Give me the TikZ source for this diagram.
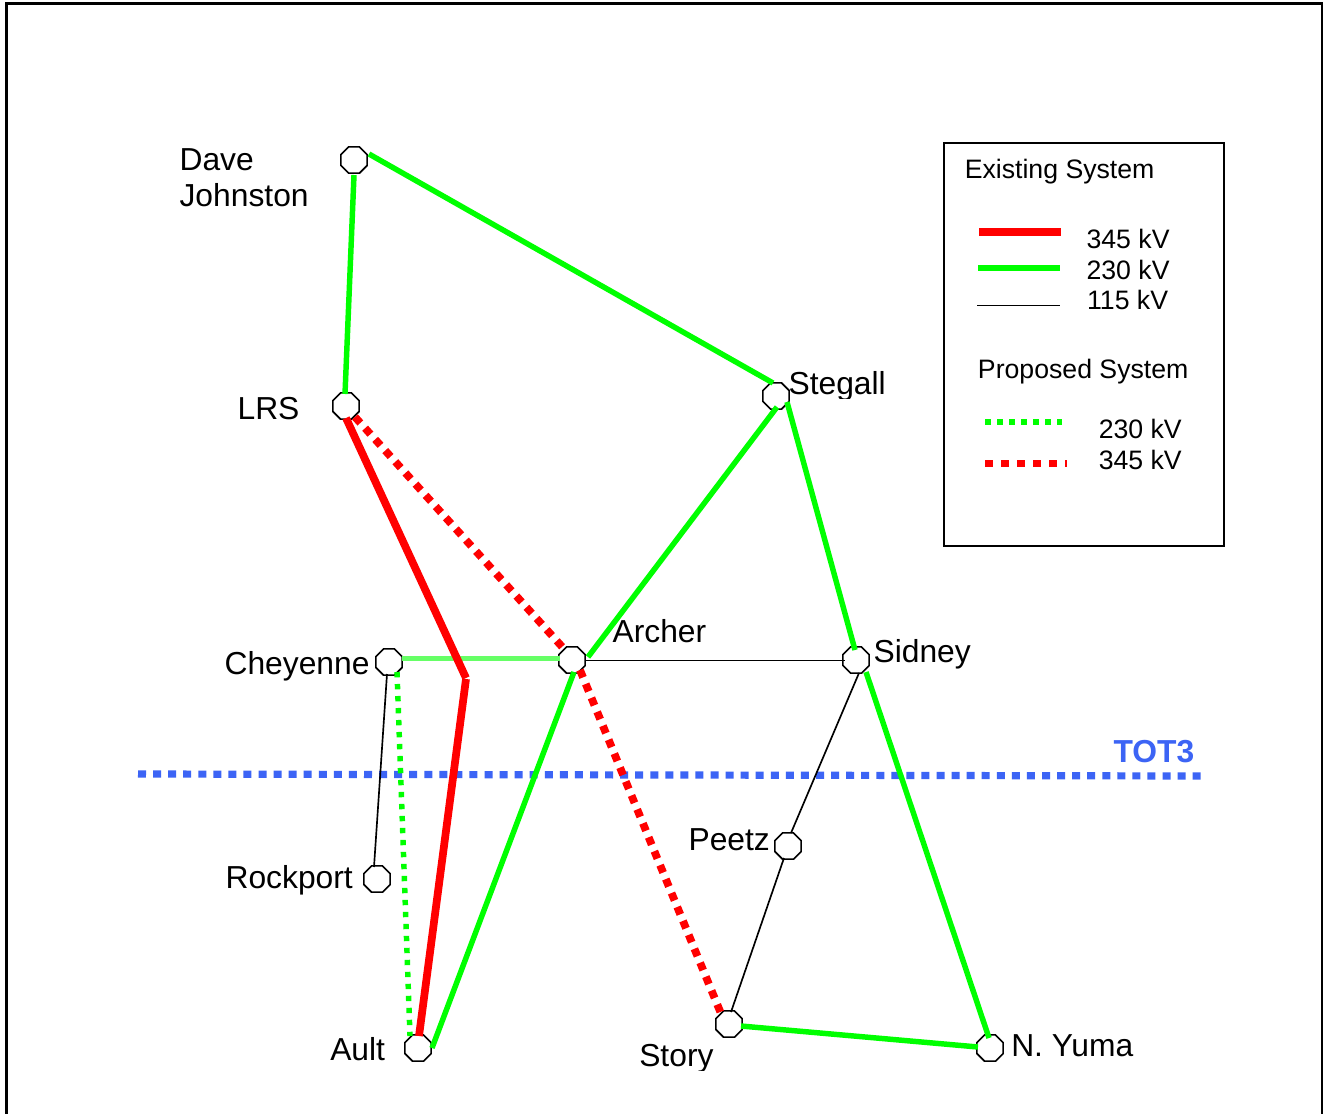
\documentclass[tikz,border=0pt]{standalone}
\usepackage{fontspec}
\setmainfont{Liberation Sans}
\usetikzlibrary{shapes.geometric,calc}
\definecolor{gridgreen}{HTML}{00FF00}
\definecolor{gridred}{HTML}{FF0000}
\definecolor{softgreen}{HTML}{66FF66}
\definecolor{totblue}{HTML}{3C64F5}
\tikzset{
  x=0.75pt,y=-0.75pt,
  station/.style={regular polygon,regular polygon sides=8,draw=black,fill=white,line width=1.2pt,minimum size=28.5*0.75pt,inner sep=0pt},
  place/.style={anchor=base west,inner sep=0pt,font=\fontsize{23.85pt}{27pt}\selectfont},
  legendtext/.style={anchor=base west,inner sep=0pt,font=\fontsize{20pt}{24pt}\selectfont},
  kvgreen/.style={draw=gridgreen,line width=4.1pt},
  kvsoft/.style={draw=softgreen,line width=4.1pt},
  kvred/.style={draw=gridred,line width=5.8pt},
  kvblack/.style={draw=black,line width=1.25pt},
  newgreen/.style={draw=gridgreen,line width=4.1pt,dash pattern=on 4pt off 5pt},
  newred/.style={draw=gridred,line width=5.8pt,dash pattern=on 6pt off 5.3pt},
  totline/.style={draw=totblue,line width=5.4pt,dash pattern=on 6pt off 5.3pt},
}
\begin{document}
\begin{tikzpicture}
\useasboundingbox (0,0) rectangle (1325,1114);
\fill[white] (0,0) rectangle (1325,1114);
% frame
\draw[black,line width=2pt] (6.5,1114) -- (6.5,3.5) -- (1322,3.5) -- (1322,1114);

% stations
\node[station] (dj) at (354,160) {};
\node[station] (lrs) at (346,406) {};
\node[station] (stegall) at (776,396) {};
\node[station] (cheyenne) at (389,662) {};
\node[station] (archer) at (572,660) {};
\node[station] (sidney) at (856,660) {};
\node[station] (rockport) at (377,879) {};
\node[station] (peetz) at (788,846) {};
\node[station] (ault) at (418,1048) {};
\node[station] (story) at (729,1024) {};
\node[station] (yuma) at (990,1048) {};
\coordinate (bend) at (466,678);

% TOT3 line
\coordinate (tota) at (138,774);
\coordinate (totb) at (1203,776);
\draw[totline] (tota) -- (totb);

% 115 kV
\draw[kvblack] ([shift={(13,0.5)}]archer.center) -- ([shift={(-11,0.5)}]sidney.center);
\draw[kvblack] ([shift={(-2,12)}]cheyenne.center) -- ([shift={(-3,-12)}]rockport.center);
\draw[kvblack] ([shift={(3,13)}]sidney.center) -- ([shift={(3,-13)}]peetz.center);
\draw[kvblack] ([shift={(-4,12)}]peetz.center) -- ([shift={(2,-12)}]story.center);

% 230 kV
\draw[kvgreen] ([shift={(0,15)}]dj.center) -- ([shift={(-1,-12)}]lrs.center);
\draw[kvgreen] ([shift={(15,-6)}]dj.center) -- ([shift={(-3,-13)}]stegall.center);
\draw[kvgreen] ([shift={(1,11)}]stegall.center) -- ([shift={(16,-3)}]archer.center);
\draw[kvgreen] ([shift={(11,6)}]stegall.center) -- ([shift={(-1,-10)}]sidney.center);
\draw[kvgreen] ([shift={(10,12)}]sidney.center) -- ([shift={(-1,-10)}]yuma.center);
\draw[kvgreen] ([shift={(2,12)}]archer.center) -- ([shift={(14,0)}]ault.center);
\draw[kvgreen] ([shift={(12,2)}]story.center) -- ([shift={(-12,-1)}]yuma.center);
\draw[kvsoft] ([shift={(13,-3.5)}]cheyenne.center) -- ([shift={(-12,-1.5)}]archer.center);

% 345 kV
\draw[kvred] ([shift={(0,12)}]lrs.center) -- (bend);
\draw[kvred] ([shift={(0,1)}]bend) -- ([shift={(1,-12)}]ault.center);

% proposed
\draw[newred] ([shift={(9,11)}]lrs.center) -- ([shift={(-7,-10)}]archer.center);
\draw[newred] ([shift={(8,10)}]archer.center) -- ([shift={(-7,-8)}]story.center);
\draw[newgreen] ([shift={(8,10)}]cheyenne.center) -- ([shift={(-8,-12)}]ault.center);

% labels
\node[place] (djlabel) at (179.3,170) {Dave};
\node[place] (djlabel2) at (179.3,206) {Johnston};
\node[place] (lrslabel) at (237.3,419) {LRS};
\node[place] (steglabel) at (788.3,394) {Stegall};
\node[place] (archlabel) at (612.3,642) {Archer};
\node[place] (cheylabel) at (224.3,674) {Cheyenne};
\node[place] (sidlabel) at (873.3,662) {Sidney};
\node[place] (peetzlabel) at (688.3,850) {Peetz};
\node[place] (rocklabel) at (225.3,888) {Rockport};
\node[place] (aultlabel) at (330,1060) {Ault};
\node[place] (storylabel) at (639,1066) {Story};
\node[place] (yumalabel) at (1011,1056) {N. Yuma};
\node[place,text=totblue,font=\fontsize{23.85pt}{27pt}\selectfont\bfseries] (totlabel) at (1113.3,762) {TOT3};
% descenders cut off in the reference
\fill[white] (825,399) rectangle (885,410);
\fill[white] (680,1071) rectangle (718,1082);

% legend
\draw[black,line width=1.2pt] (1224,404) -- (1224,143) -- (944,143) -- (944,546) -- (1224,546) -- (1224,404);
\node[legendtext] (existing) at (964.5,178) {Existing System};
\node[legendtext] (proposed) at (977.7,378) {Proposed System};
\node[legendtext] (ea) at (1086.3,248) {345 kV};
\node[legendtext] (eb) at (1086.3,279) {230 kV};
\node[legendtext] (ec) at (1086.8,309) {115 kV};
\node[legendtext] (pa) at (1098.5,438) {230 kV};
\node[legendtext] (pb) at (1098.5,469) {345 kV};
\coordinate (l1a) at (979,232); \coordinate (l1b) at (1061,232);
\coordinate (l2a) at (978,268); \coordinate (l2b) at (1060,268);
\coordinate (l3a) at (977,305.5); \coordinate (l3b) at (1060,305.5);
\coordinate (l4a) at (985,421.5); \coordinate (l4b) at (1062,421.5);
\coordinate (l5a) at (985,463.5); \coordinate (l5b) at (1067,463.5);
\draw[kvred,line width=6pt] (l1a) -- (l1b);
\draw[kvgreen,line width=4.5pt] (l2a) -- (l2b);
\draw[kvblack] (l3a) -- (l3b);
\draw[draw=gridgreen,line width=4.5pt,dash pattern=on 4.5pt off 4.5pt] (l4a) -- (l4b);
\draw[draw=gridred,line width=5.8pt,dash pattern=on 6pt off 6pt] (l5a) -- (l5b);
\end{tikzpicture}
\end{document}
